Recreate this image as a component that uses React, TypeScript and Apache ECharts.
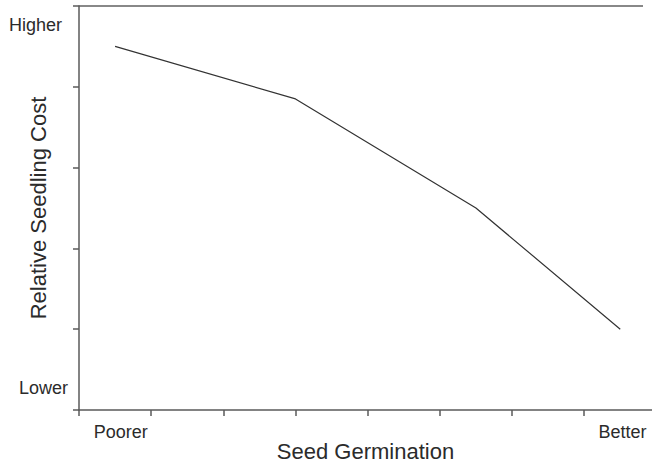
import React, { useEffect, useRef } from "react";
import * as echarts from "echarts";

const germination = [0.5, 3, 5.5, 7.5];
const seedlingCost = [4.5, 3.85, 2.5, 1.0];
const xTicks = [0, 1, 2, 3, 4, 5, 6, 7];
const yTicks = [0, 1, 2, 3, 4, 5];
const xLabelValues = [0.58, 7.53];
const xLabelTexts = ["Poorer", "Better"];
const yLabelValues = [0.27, 4.76];
const yLabelTexts = ["Lower", "Higher"];

const FONT = "'Liberation Sans', Arial, sans-serif";
const AXIS = "#5a5a5a";
const TEXT = "#2b2b2b";

export default function App() {
  const ref = useRef<HTMLDivElement>(null);
  useEffect(() => {
    if (!ref.current) return;
    const chart = echarts.init(ref.current, undefined, { renderer: "svg" });
    chart.setOption({
      animation: false,
      backgroundColor: "#ffffff",
      grid: { left: 79, right: 0, top: 6, bottom: 53, containLabel: false, outerBoundsMode: "none" },
      xAxis: {
        type: "value",
        min: 0,
        max: 7.94,
        name: "Seed Germination",
        nameLocation: "middle",
        nameGap: 30,
        nameMoveOverlap: false,
        nameTextStyle: { fontFamily: FONT, fontSize: 22, color: TEXT },
        axisLine: { show: true, lineStyle: { color: AXIS, width: 1.5 } },
        axisTick: { show: true, length: 6, customValues: xTicks, lineStyle: { color: AXIS, width: 1.5 } },
        axisLabel: {
          customValues: xLabelValues,
          margin: 13,
          fontFamily: FONT,
          fontSize: 18,
          color: TEXT,
          formatter: (v: number) => {
            const i = xLabelValues.findIndex((x) => Math.abs(x - v) < 1e-6);
            return i >= 0 ? xLabelTexts[i] : "";
          },
        },
        splitLine: { show: false },
      },
      yAxis: {
        type: "value",
        min: 0,
        max: 5,
        name: "Relative Seedling Cost",
        nameLocation: "middle",
        nameGap: 30,
        nameMoveOverlap: false,
        nameTextStyle: { fontFamily: FONT, fontSize: 22, color: TEXT },
        axisLine: { show: true, lineStyle: { color: AXIS, width: 1.5 } },
        axisTick: { show: true, length: 6, customValues: yTicks, lineStyle: { color: AXIS, width: 1.5 } },
        axisLabel: {
          customValues: yLabelValues,
          margin: 11,
          fontFamily: FONT,
          fontSize: 18,
          color: TEXT,
          formatter: (v: number) => {
            const i = yLabelValues.findIndex((x) => Math.abs(x - v) < 1e-6);
            if (i < 0) return "";
            return i === 1 ? "{h|" + yLabelTexts[i] + "}" : yLabelTexts[i];
          },
          rich: {
            h: { fontFamily: FONT, fontSize: 18, color: TEXT, padding: [0, 6, 0, 0] },
          },
        },
        splitLine: { show: false },
      },
      graphic: [
        {
          type: "line",
          shape: { x1: 79, y1: 6, x2: 643, y2: 6 },
          style: { stroke: "#888888", lineWidth: 2 },
          silent: true,
        },
      ],
      series: [
        {
          type: "line",
          data: germination.map((x, i) => [x, seedlingCost[i]]),
          showSymbol: false,
          symbol: "none",
          lineStyle: { color: "#333333", width: 1.2 },
        },
      ],
    });
    return () => chart.dispose();
  }, []);
  return (
    <div
      ref={ref}
      style={{ position: "fixed", left: 0, top: 0, width: 652, height: 463 }}
    />
  );
}
